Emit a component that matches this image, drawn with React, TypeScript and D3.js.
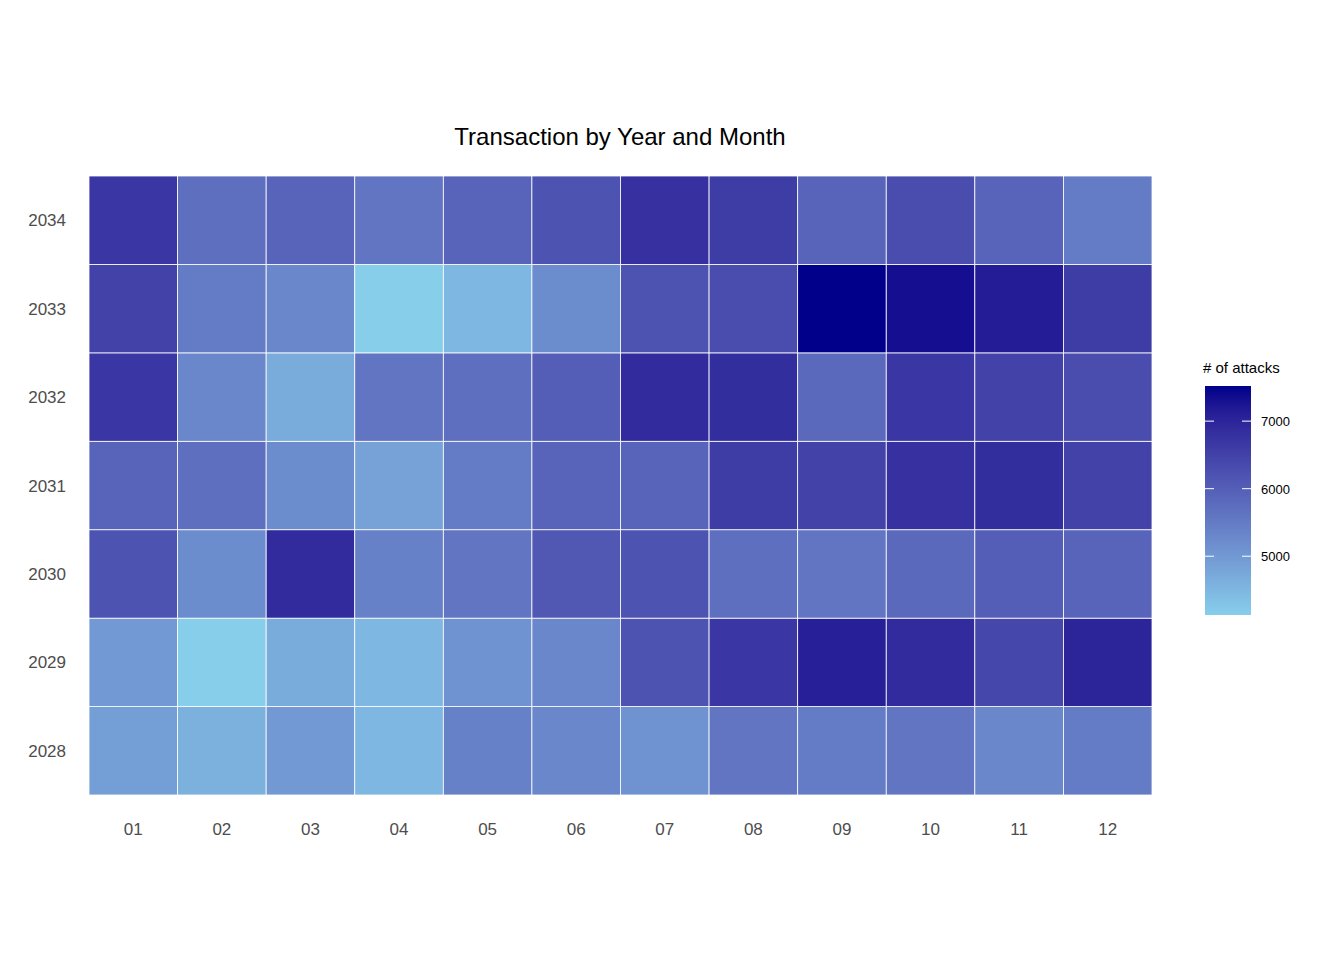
import React from 'react';
import * as d3 from 'd3';

const months = ['01', '02', '03', '04', '05', '06', '07', '08', '09', '10', '11', '12'];
const years = ['2028', '2029', '2030', '2031', '2032', '2033', '2034'];
const values2028 = [4900, 4600, 5000, 4500, 5400, 5300, 5100, 5600, 5500, 5600, 5300, 5500];
const values2029 = [5000, 4130, 4700, 4500, 5100, 5300, 6200, 6700, 7100, 6900, 6400, 7000];
const values2030 = [6200, 5200, 6900, 5400, 5600, 6100, 6200, 5700, 5600, 5800, 6000, 5900];
const values2031 = [5900, 5700, 5200, 4850, 5500, 5900, 5900, 6600, 6500, 6800, 6850, 6500];
const values2032 = [6700, 5300, 4700, 5600, 5700, 6000, 6900, 6850, 5800, 6700, 6500, 6300];
const values2033 = [6500, 5500, 5300, 4130, 4500, 5200, 6200, 6300, 7520, 7350, 7150, 6600];
const values2034 = [6700, 5700, 5900, 5600, 5900, 6200, 6800, 6600, 5900, 6300, 5900, 5500];
const legendTicks = [5000, 6000, 7000];

const rows = [values2028, values2029, values2030, values2031, values2032, values2033, values2034];

export default function App() {
  const left = 89, right = 1152, top = 176, bottom = 795;
  const x = d3.scaleBand().domain(months).range([left, right]);
  const y = d3.scaleBand().domain([...years].reverse()).range([top, bottom]);
  const all = rows.flat();
  const lo = d3.min(all)!, hi = d3.max(all)!;
  const color = d3.scaleLinear<string>().domain([lo, hi]).range(['#87CEEB', '#00008B']).interpolate(d3.interpolateLab);
  const lx = 1205, lw = 46, lTop = 386, lBot = 615;
  const ly = d3.scaleLinear().domain([lo, hi]).range([lBot, lTop]);
  const font = 'Liberation Sans, Arial, sans-serif';
  return (
    <svg width={1344} height={960} style={{ display: 'block', margin: -8 }} fontFamily={font}>
      <rect width={1344} height={960} fill="#fff" />
      <text x={620} y={145} textAnchor="middle" fontSize={24} fill="#000">Transaction by Year and Month</text>
      {rows.map((r, i) => r.map((v, j) => (
        <rect key={`${i}-${j}`} x={x(months[j])} y={y(years[i])} width={x.bandwidth()} height={y.bandwidth()}
          fill={color(v)} stroke="#fff" strokeWidth={0.8} />
      )))}
      {months.map(m => (
        <text key={m} x={x(m)! + x.bandwidth() / 2} y={835} textAnchor="middle" fontSize={17} fill="#4d4d4d">{m}</text>
      ))}
      {years.map(yr => (
        <text key={yr} x={66} y={y(yr)! + y.bandwidth() / 2 + 6} textAnchor="end" fontSize={17} fill="#4d4d4d">{yr}</text>
      ))}
      <text x={1203} y={373} fontSize={15} fill="#000">{'# of attacks'}</text>
      <defs>
        <linearGradient id="lg" x1="0" y1="1" x2="0" y2="0">
          {d3.range(0, 1.001, 0.1).map(t => (
            <stop key={t} offset={t} stopColor={color(lo + t * (hi - lo))} />
          ))}
        </linearGradient>
      </defs>
      <rect x={lx} y={lTop} width={lw} height={lBot - lTop} fill="url(#lg)" />
      {legendTicks.map(t => (
        <g key={t}>
          <line x1={lx} x2={lx + 9} y1={ly(t)} y2={ly(t)} stroke="#fff" />
          <line x1={lx + lw - 9} x2={lx + lw} y1={ly(t)} y2={ly(t)} stroke="#fff" />
          <text x={1261} y={ly(t) + 5} fontSize={13} fill="#000">{t}</text>
        </g>
      ))}
    </svg>
  );
}
